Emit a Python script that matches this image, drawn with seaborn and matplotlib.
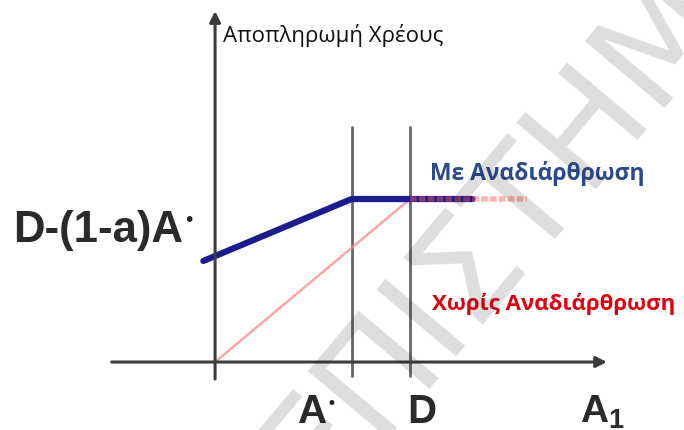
import matplotlib
matplotlib.use("Agg")
import matplotlib.pyplot as plt
import numpy as np
import pandas as pd
import seaborn as sns

# diagram values (units: D = 1 on both axes)
a_star = 0.7
d_val = 1.0
blue_x = [-0.06, 0.7, 1.32]
blue_y = [0.62, 1.0, 1.0]
pink_x = [0.0, 1.0]
pink_y = [0.0, 1.0]
pink_flat_x = [1.0, 1.6]
pink_flat_y = [1.0, 1.0]
x_axis_span = [-0.53, 2.01]
y_axis_span = [-0.104, 2.153]
guide_span = [-0.09, 1.45]

sns.set_theme(style="white")
plt.rcParams['mathtext.fontset'] = 'custom'
plt.rcParams['mathtext.rm'] = 'Liberation Sans'
plt.rcParams['mathtext.bf'] = 'Liberation Sans:bold'

fig = plt.figure(figsize=(6.84, 4.31), dpi=100)
ax = fig.add_axes([0, 0, 1, 1])
ax.set_xlim(-1.103, 2.405)
ax.set_ylim(-0.417, 2.227)
ax.axis('off')

axis_col = '#3c3c3c'
# axes with arrow heads
ax.annotate('', xy=(x_axis_span[1], 0), xytext=(x_axis_span[0], 0),
            arrowprops=dict(arrowstyle='-|>', color=axis_col, lw=2.2,
                            mutation_scale=16, shrinkA=0, shrinkB=0))
ax.annotate('', xy=(0, y_axis_span[1]), xytext=(0, y_axis_span[0]),
            arrowprops=dict(arrowstyle='-|>', color=axis_col, lw=2.2,
                            mutation_scale=16, shrinkA=0, shrinkB=0))

# vertical guides at A* and D
for xv in [a_star, d_val]:
    ax.plot([xv, xv], guide_span, color='#555555', lw=2.0, alpha=0.9, solid_capstyle='butt')

# lines
sns.lineplot(x=pink_x, y=pink_y, ax=ax, color='#ff8f8f', lw=1.8, alpha=0.8)
sns.lineplot(x=blue_x, y=blue_y, ax=ax, color='#1c1c8e', lw=4.5)
sns.lineplot(x=pink_flat_x, y=pink_flat_y, ax=ax, color='#ff5a5a', lw=4.0, alpha=0.45)
ax.lines[-1].set_dashes([1.2, 0.4])

# texts
ax.text(0.041, 1.969, 'Αποπληρωμή Χρέους', fontsize=16, family='Open Sans',
        color='#111111', ha='left', va='baseline')
lab = ax.text(-1.036, 0.742, 'D-(1-a)A', fontsize=31.5, family='Liberation Sans',
              fontweight='bold', color='#2a2a2a', ha='left', va='baseline')
ax.annotate('•', xy=(1.0, 0.74), xycoords=lab, fontsize=14, color='#222222',
            ha='left', va='center', family='DejaVu Sans')
ta = ax.text(a_star - 0.126, -0.368, 'A', fontsize=29, family='Liberation Sans',
             fontweight='bold', color='#2a2a2a', ha='right', va='baseline')
ax.annotate('•', xy=(1.0, 0.72), xycoords=ta, fontsize=12, color='#222222',
            ha='left', va='center', family='DejaVu Sans')
ax.text(d_val + 0.062, -0.368, 'D', fontsize=29, family='Liberation Sans',
        fontweight='bold', color='#2a2a2a', ha='center', va='baseline')
ax.text(1.872, -0.368, r'$\mathbf{A}_{\mathbf{1}}$', fontsize=28, color='#2a2a2a',
        ha='left', va='baseline')
ax.text(1.103, 1.123, 'Με Αναδιάρθρωση', fontsize=16.5, family='Open Sans',
        fontweight='bold', color='#2b4a8e', ha='left', va='baseline')
ax.text(1.115, 0.325, 'Χωρίς Αναδιάρθρωση', fontsize=16, family='Open Sans',
        fontweight='bold', color='#e00010', ha='left', va='baseline')

# watermark
ax.text(1.60, 1.043, 'ΕΠΙΣΤΗΜΗ', fontsize=102, family='DejaVu Sans', color='k',
        alpha=0.15, rotation=50, ha='center', va='center', zorder=10,
        rotation_mode='anchor')

fig.savefig('out.png', dpi=100)
